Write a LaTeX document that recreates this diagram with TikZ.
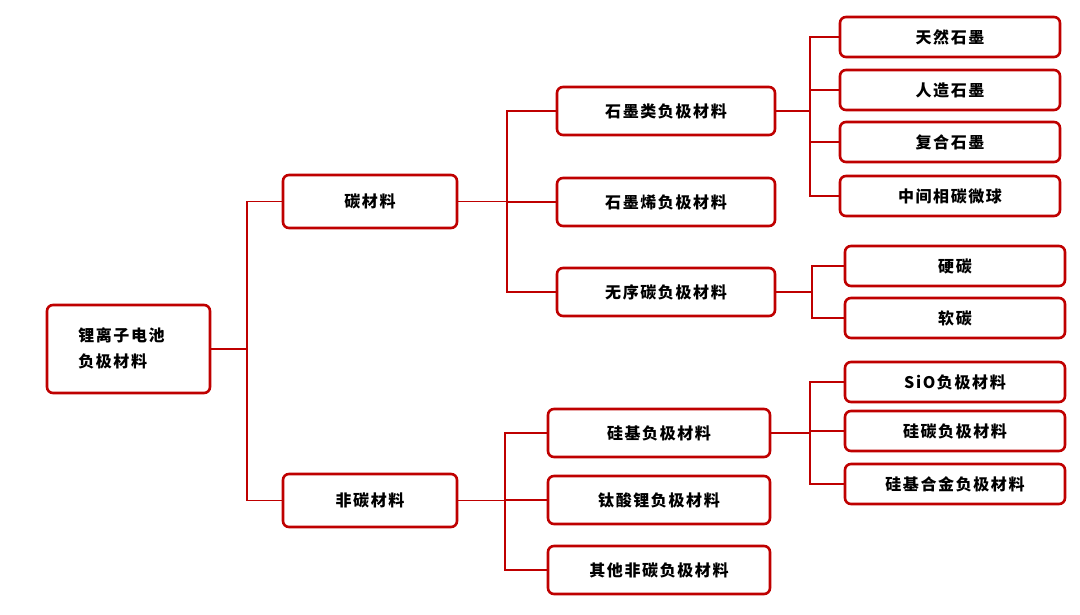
\documentclass[tikz,border=0pt]{standalone}
\usepackage{fontspec}
\newfontfamily\cjk[LetterSpace=10]{Noto Sans CJK SC}
\begin{document}
\begin{tikzpicture}[x=1pt,y=-1pt,
  bx/.style={draw=red!75!black,line width=2.6pt,rounded corners=6pt,fill=white,font=\cjk\bfseries\fontsize{16}{26}\selectfont,inner sep=0pt},
  ln/.style={draw=red!75!black,line width=1.3pt}]
\useasboundingbox (0,0) rectangle (1080,615);
\newcommand\bxat[6]{\node[bx,minimum width=#3-#1,minimum height=#4-#2] (#5) at ({(#1+#3)/2},{(#2+#4)/2}) {#6};}
\foreach \a/\b/\x in {root/c/247,root/nc/247,c/g/507,c/gr/507,c/d/507,nc/si/505,nc/ti/505,nc/ot/505,g/g1/810,g/g2/810,g/g3/810,g/g4/810,d/d1/812,d/d2/812,si/s1/810,si/s2/810,si/s3/810}{}
\bxat{47}{305}{210}{393}{root}{\hspace*{4pt}\begin{tabular}{@{}l@{}}锂离子电池\\负极材料\end{tabular}\hspace*{18pt}}
\bxat{283}{175}{457}{228}{c}{碳材料}
\bxat{283}{474}{457}{527}{nc}{非碳材料}
\bxat{557}{87}{775}{135}{g}{石墨类负极材料}
\bxat{557}{178}{775}{226}{gr}{石墨烯负极材料}
\bxat{557}{268}{775}{316}{d}{无序碳负极材料}
\bxat{548}{409}{770}{457}{si}{硅基负极材料}
\bxat{548}{476}{770}{524}{ti}{钛酸锂负极材料}
\bxat{548}{546}{770}{594}{ot}{其他非碳负极材料}
\bxat{840}{17}{1060}{57}{g1}{天然石墨}
\bxat{840}{70}{1060}{110}{g2}{人造石墨}
\bxat{840}{122}{1060}{162}{g3}{复合石墨}
\bxat{840}{176}{1060}{216}{g4}{中间相碳微球}
\bxat{845}{246}{1065}{286}{d1}{硬碳}
\bxat{845}{298}{1065}{338}{d2}{软碳}
\bxat{845}{362}{1065}{402}{s1}{SiO负极材料}
\bxat{845}{411}{1065}{451}{s2}{硅碳负极材料}
\bxat{845}{464}{1065}{504}{s3}{硅基合金负极材料}
\foreach \a/\b/\x in {root/c/247,root/nc/247,c/g/507,c/gr/507,c/d/507,nc/si/505,nc/ti/505,nc/ot/505,g/g1/810,g/g2/810,g/g3/810,g/g4/810,d/d1/812,d/d2/812,si/s1/810,si/s2/810,si/s3/810}
  \draw[ln] (\a.east) -- (\x,0 |- \a.east) |- (\b.west);
\end{tikzpicture}
\end{document}
